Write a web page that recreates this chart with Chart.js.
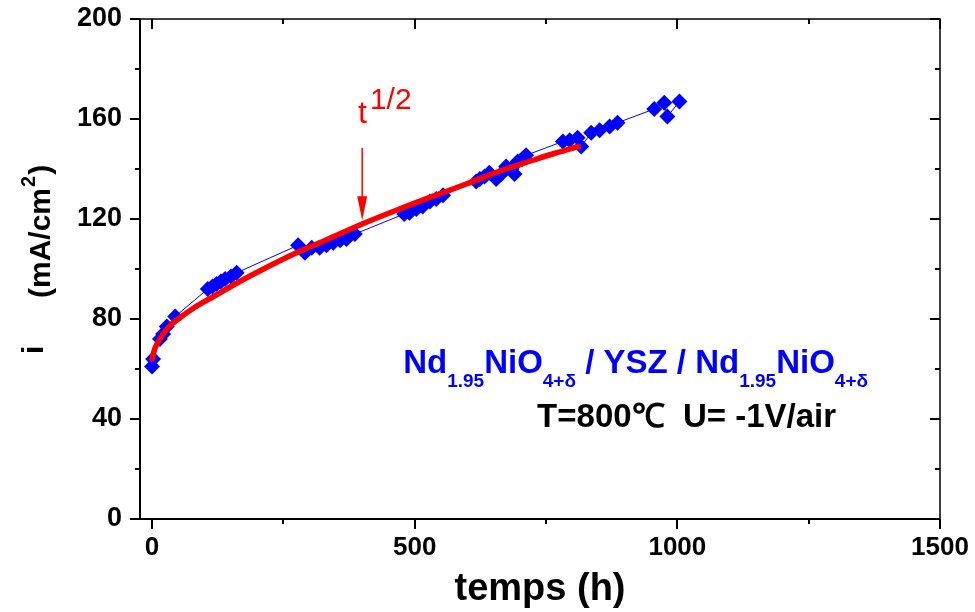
<!DOCTYPE html>
<html><head><meta charset="utf-8">
<script src="https://cdn.jsdelivr.net/npm/chart.js@4.4.1/dist/chart.umd.min.js"></script>
<style>html,body{margin:0;padding:0;background:#fff}#wrap{width:975px;height:612px}</style>
</head><body><div id="wrap"><canvas id="c" width="975" height="612"></canvas></div>
<script>
// ---- data ----
const timeH = [0, 2, 15, 21, 28, 44, 106, 115, 123, 131, 139, 150, 161, 278, 291, 304, 319, 332, 345, 358, 370, 386,
  480, 490, 503, 515, 529, 541, 554, 617, 624, 633, 642, 655, 665, 674, 684, 690, 696, 705, 712,
  782, 795, 810, 817, 836, 852, 871, 886, 956, 975, 981, 1004];
const currentI = [61, 64, 72, 74, 77, 81, 92, 93, 94, 95, 96, 97, 98.5, 109.5, 106.5, 108.5, 108.5, 109.5, 110.5, 111.5, 112, 114,
  122, 122.5, 124, 125, 127, 128, 129.5, 135, 136, 137, 138.5, 136, 138, 141, 140, 138, 143, 144, 145.5,
  151, 151.5, 152.5, 149, 154.5, 155.5, 157, 158.5, 164, 166.5, 161, 167];
const fitTimeH = [0, 5, 15, 30, 53, 80, 117, 167, 212, 275, 330, 400, 471, 540, 598, 660, 725, 770, 812];
const fitI = [64, 68, 72, 76.5, 80.5, 84.5, 89, 95, 100, 106.5, 111.5, 118, 124, 129.5, 134, 139, 143.5, 146.5, 149];
const xTickValues = [0, 500, 1000, 1500];
const xMinorValues = [250, 750, 1250];
const yTickValues = [0, 40, 80, 120, 160, 200];
const yMinorValues = [20, 60, 100, 140, 180];
const xTitle = 'temps (h)';
const yTitleMain = 'i';
const yTitleUnit = '(mA/cm';
const sampleRuns = [['Nd', 'n'], ['1.95', 's'], ['NiO', 'n'], ['4+δ', 's'], [' / YSZ / ', 'n'], ['Nd', 'n'], ['1.95', 's'], ['NiO', 'n'], ['4+δ', 's']];
const conditionText = 'T=800℃  U= -1V/air';
const arrowAt = {t: 400, from: 148.5, to: 119.5};
const fitLabelAt = {t: 392, i: 158.5};
const sampleAt = {t: 478, i: 58.5};
const conditionAt = {t: 733, i: 36.8};

const FONT = '"Liberation Sans", Arial, Helvetica, sans-serif';

const framePlugin = {
  id: 'frame',
  afterDraw(chart) {
    const ctx = chart.ctx, a = chart.chartArea, xs = chart.scales.x, ys = chart.scales.y;
    ctx.save();
    ctx.strokeStyle = '#000';
    ctx.lineCap = 'butt';
    ctx.lineWidth = 2;
    ctx.beginPath();
    ctx.moveTo(a.left, a.top); ctx.lineTo(a.left, a.bottom); ctx.lineTo(a.right, a.bottom);
    ctx.stroke();
    ctx.lineWidth = 1.5;
    ctx.beginPath();
    ctx.moveTo(a.left, a.top); ctx.lineTo(a.right, a.top); ctx.lineTo(a.right, a.bottom);
    ctx.stroke();
    ctx.lineWidth = 2;
    ctx.beginPath();
    yTickValues.forEach(v => { const p = Math.round(ys.getPixelForValue(v));
      ctx.moveTo(a.left - 10, p); ctx.lineTo(a.left, p); ctx.moveTo(a.right - 10, p); ctx.lineTo(a.right, p); });
    yMinorValues.forEach(v => { const p = Math.round(ys.getPixelForValue(v));
      ctx.moveTo(a.left - 5, p); ctx.lineTo(a.left, p); ctx.moveTo(a.right - 5, p); ctx.lineTo(a.right, p); });
    xTickValues.forEach(v => { const p = Math.round(xs.getPixelForValue(v));
      ctx.moveTo(p, a.bottom); ctx.lineTo(p, a.bottom + 10); ctx.moveTo(p, a.top); ctx.lineTo(p, a.top + 10); });
    xMinorValues.forEach(v => { const p = Math.round(xs.getPixelForValue(v));
      ctx.moveTo(p, a.bottom); ctx.lineTo(p, a.bottom + 5); ctx.moveTo(p, a.top); ctx.lineTo(p, a.top + 5); });
    ctx.stroke();

    // y title
    ctx.fillStyle = '#000';
    ctx.textBaseline = 'alphabetic';
    ctx.save();
    ctx.translate(43, 354); ctx.rotate(-Math.PI / 2);
    ctx.font = 'bold 30px ' + FONT;
    ctx.fillText(yTitleMain, 0, 0);
    ctx.restore();
    ctx.save();
    ctx.translate(50, 298); ctx.rotate(-Math.PI / 2);
    ctx.font = 'bold 30px ' + FONT;
    ctx.fillText(yTitleUnit, 0, 0);
    let w = ctx.measureText(yTitleUnit).width;
    ctx.font = 'bold 20px ' + FONT;
    ctx.fillText('2', w + 1, -15);
    w += ctx.measureText('2').width + 2;
    ctx.font = 'bold 30px ' + FONT;
    ctx.fillText(')', w, 0);
    ctx.restore();

    // arrow
    const ax = xs.getPixelForValue(arrowAt.t), ay1 = ys.getPixelForValue(arrowAt.from), ay2 = ys.getPixelForValue(arrowAt.to);
    ctx.strokeStyle = '#ff0000'; ctx.fillStyle = '#ff0000'; ctx.lineWidth = 1.5;
    ctx.beginPath(); ctx.moveTo(ax, ay1); ctx.lineTo(ax, ay2 - 20); ctx.stroke();
    ctx.beginPath(); ctx.moveTo(ax - 5, ay2 - 24); ctx.lineTo(ax + 5, ay2 - 24); ctx.lineTo(ax, ay2); ctx.closePath(); ctx.fill();

    // t^1/2
    let tx = xs.getPixelForValue(fitLabelAt.t), ty = ys.getPixelForValue(fitLabelAt.i);
    ctx.font = '32px ' + FONT;
    ctx.fillText('t', tx, ty);
    tx += ctx.measureText('t').width + 3;
    ctx.font = '30px ' + FONT;
    ctx.fillText('1/2', tx, ty - 14);

    // sample label
    let sx = xs.getPixelForValue(sampleAt.t), sy = ys.getPixelForValue(sampleAt.i);
    ctx.fillStyle = '#0000ff';
    sampleRuns.forEach(([txt, kind]) => {
      ctx.font = kind === 's' ? 'bold 19px ' + FONT : 'bold 33px ' + FONT;
      ctx.fillText(txt, sx, kind === 's' ? sy + 14 : sy);
      sx += ctx.measureText(txt).width;
    });
    // condition label
    ctx.fillStyle = '#000';
    ctx.font = 'bold 33px ' + FONT;
    ctx.fillText(conditionText, xs.getPixelForValue(conditionAt.t), ys.getPixelForValue(conditionAt.i));
    ctx.restore();
  }
};

const measured = timeH.map((t, k) => ({x: t, y: currentI[k]}));
const fitted = fitTimeH.map((t, k) => ({x: t, y: fitI[k]}));

new Chart(document.getElementById('c'), {
  type: 'scatter',
  data: {
    datasets: [
      { label: 'fit t^1/2', data: fitted, showLine: true, borderColor: '#ff0000', borderWidth: 5.5,
        borderCapStyle: 'round', borderJoinStyle: 'round', cubicInterpolationMode: 'monotone',
        pointRadius: 0, pointHoverRadius: 0, fill: false },
      { label: 'i', data: measured, showLine: true, borderColor: '#0000ff', borderWidth: 1,
        pointStyle: 'rectRot', pointRadius: 8, pointBackgroundColor: '#0000ff', pointBorderWidth: 0,
        pointBorderColor: '#0000ff', fill: false }
    ]
  },
  options: {
    responsive: false, animation: false, devicePixelRatio: 1,
    layout: { autoPadding: false, padding: { top: 19, right: 35, left: 0, bottom: 0 } },
    plugins: { legend: { display: false }, tooltip: { enabled: false } },
    scales: {
      x: {
        type: 'linear', min: -23, max: 1500,
        afterBuildTicks: s => { s.ticks = xTickValues.map(v => ({value: v})); },
        afterFit: s => { s.height = 93; s.paddingLeft = 0; s.paddingRight = 0; },
        grid: { display: false, drawTicks: false }, border: { display: false },
        ticks: { autoSkip: false, maxRotation: 0, padding: 13, color: '#000',
          callback: v => String(v),
          font: { family: FONT, size: 26, weight: 'bold' } },
        title: { display: true, text: xTitle, color: '#000', padding: { top: 0, bottom: 0 },
          font: { family: FONT, size: 38, weight: 'bold' } }
      },
      y: {
        min: 0, max: 200,
        afterBuildTicks: s => { s.ticks = yTickValues.map(v => ({value: v})); },
        afterFit: s => { s.width = 140; s.paddingTop = 0; s.paddingBottom = 0; },
        grid: { display: false, drawTicks: false }, border: { display: false },
        ticks: { autoSkip: false, padding: 18, color: '#000',
          callback: v => String(v),
          font: { family: FONT, size: 27, weight: 'bold' } }
      }
    }
  },
  plugins: [framePlugin]
});
</script></body></html>
